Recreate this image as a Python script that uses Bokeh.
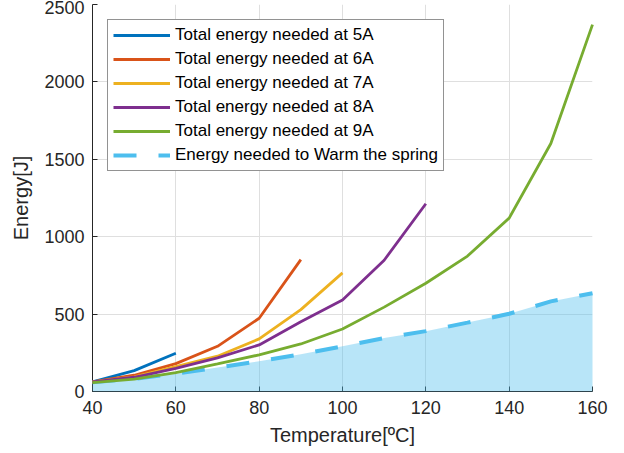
from bokeh.plotting import figure
from bokeh.models import FixedTicker, Range1d, Legend, LegendItem
from bokeh.embed import file_html
from bokeh.resources import INLINE

# Data
temp_5a = [40, 50, 60]
energy_5a = [62, 135, 247]

temp_6a = [40, 50, 60, 70, 80, 90]
energy_6a = [62, 105, 180, 292, 473, 852]

temp_7a = [40, 50, 60, 70, 80, 90, 100]
energy_7a = [62, 95, 160, 228, 340, 529, 766]

temp_8a = [40, 50, 60, 70, 80, 90, 100, 110, 120]
energy_8a = [62, 92, 150, 217, 301, 450, 591, 848, 1213]

temp_9a = [40, 50, 60, 70, 80, 90, 100, 110, 120, 130, 140, 150, 160]
energy_9a = [58, 80, 122, 178, 237, 307, 404, 545, 699, 875, 1120, 1602, 2370]

temp_warm = [40, 50, 60, 70, 80, 90, 100, 110, 120, 130, 140, 150, 160]
energy_warm = [60, 82, 115, 155, 195, 240, 292, 345, 390, 445, 502, 582, 635]

x_ticks = [40, 60, 80, 100, 120, 140, 160]
y_ticks = [0, 500, 1000, 1500, 2000, 2500]

labels = [
    "Total energy needed at 5A",
    "Total energy needed at 6A",
    "Total energy needed at 7A",
    "Total energy needed at 8A",
    "Total energy needed at 9A",
    "Energy needed to Warm the spring",
]
colors = ["#0072BD", "#D95319", "#EDB120", "#7E2F8E", "#77AC30", "#4DBEEE"]

FONT = "Liberation Sans"
TXT = "#262626"

p = figure(width=624, height=453, output_backend="svg", toolbar_location=None,
           x_range=Range1d(40, 160), y_range=Range1d(0, 2500),
           min_border_left=92, min_border_right=32, min_border_top=4,
           min_border_bottom=62)
p.outline_line_color = None
p.background_fill_color = "white"
p.border_fill_color = "white"

fill = p.varea(x=temp_warm, y1=[0] * len(temp_warm), y2=energy_warm,
               fill_color="#4DBEEE", fill_alpha=0.4, level="overlay")

series = [(temp_5a, energy_5a), (temp_6a, energy_6a), (temp_7a, energy_7a),
          (temp_8a, energy_8a), (temp_9a, energy_9a)]

warm = p.line(temp_warm, energy_warm, line_color=colors[5], line_width=4,
              line_dash="23 22", level="overlay")

renderers = []
for (xs, ys), c in zip(series, colors[:5]):
    r = p.line(xs, ys, line_color=c, line_width=2.8, level="overlay")
    renderers.append(r)
renderers.append(warm)

legend = Legend(items=[LegendItem(label=l, renderers=[r]) for l, r in zip(labels, renderers)],
                location="top_left", margin=15, padding=5, spacing=4,
                label_height=20, glyph_height=20, glyph_width=57,
                label_standoff=5,
                label_text_font=FONT, label_text_font_size="17px",
                label_text_color="#000000",
                border_line_color=TXT, border_line_width=1,
                background_fill_color="white", background_fill_alpha=1)
p.add_layout(legend, "center")

p.xaxis.ticker = FixedTicker(ticks=x_ticks)
p.yaxis.ticker = FixedTicker(ticks=y_ticks)
p.xaxis.minor_tick_line_color = None
p.yaxis.minor_tick_line_color = None
for ax in (p.xaxis, p.yaxis):
    ax.major_tick_in = 5
    ax.major_tick_out = 0
    ax.axis_line_color = TXT
    ax.major_tick_line_color = TXT
    ax.major_label_text_font = FONT
    ax.major_label_text_font_size = "18px"
    ax.major_label_text_color = TXT
    ax.axis_label_text_font = FONT
    ax.axis_label_text_font_size = "20px"
    ax.axis_label_text_font_style = "normal"
    ax.axis_label_text_color = TXT
p.xaxis.axis_label = "Temperature[ºC]"
p.yaxis.axis_label = "Energy[J]"
p.xaxis.major_label_standoff = 9
p.yaxis.major_label_standoff = 8
p.xaxis.axis_label_standoff = 7
p.yaxis.axis_label_standoff = 9

p.xgrid.grid_line_color = "#DFDFDF"
p.ygrid.grid_line_color = "#DFDFDF"
p.xgrid.grid_line_width = 1
p.ygrid.grid_line_width = 1

open("out.html", "w").write(file_html(p, INLINE))
